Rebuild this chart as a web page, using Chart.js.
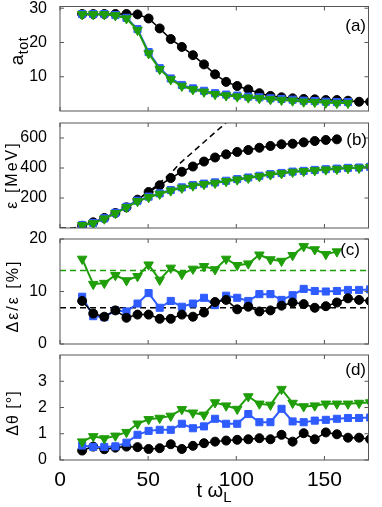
<!DOCTYPE html>
<html>
<head>
<meta charset="utf-8">
<script src="https://cdn.jsdelivr.net/npm/chart.js@4.4.1/dist/chart.umd.min.js"></script>
<style>
  html, body { margin: 0; padding: 0; background: #fff; }
  #wrap { position: relative; width: 382px; height: 507px; overflow: hidden;
          font-family: 'Liberation Sans', Arial, sans-serif; color: #000; }
  canvas { position: absolute; left: 0; }
  .ylab { position: absolute; white-space: nowrap; font-size: 16px; letter-spacing: 2px;
          transform: translate(-50%, -50%) rotate(-90deg); }
  .plab { position: absolute; font-size: 17px; transform: translate(-100%, -50%); }
  .xlab { position: absolute; font-size: 20px; white-space: nowrap; transform: translate(-50%, -50%); }
  sub { font-size: 75%; vertical-align: -0.35em; line-height: 0; }
</style>
</head>
<body>
<div id="wrap">
  <canvas id="cA" width="382" height="125" style="top:0px"></canvas>
  <canvas id="cB" width="382" height="133" style="top:109px"></canvas>
  <canvas id="cC" width="382" height="133" style="top:225px"></canvas>
  <canvas id="cD" width="382" height="166" style="top:341px"></canvas>

  <div class="ylab" style="left:17px; top:51px; font-size:19px; letter-spacing:0.5px">a<sub>tot</sub></div>
  <div class="ylab" style="left:12px; top:175px">ε [MeV]</div>
  <div class="ylab" style="left:13px; top:296px">Δε/ε [%]</div>
  <div class="ylab" style="left:13px; top:413px; letter-spacing:1px">Δθ [°]</div>

  <div class="plab" style="left:366px; top:26px">(a)</div>
  <div class="plab" style="left:367px; top:140px">(b)</div>
  <div class="plab" style="left:360px; top:250px">(c)</div>
  <div class="plab" style="left:366px; top:370px">(d)</div>

  <div class="xlab" style="left:214px; top:490px">t ω<sub>L</sub></div>
</div>
<script>
// temps de simulation (t ωL) des points
const tValues = [12.57, 18.85, 25.13, 31.42, 37.70, 43.98, 50.27, 56.55, 62.83, 69.12, 75.40,
  81.68, 87.96, 94.25, 100.53, 106.81, 113.10, 119.38, 125.66, 131.95, 138.23, 144.51,
  150.80, 157.08, 163.36, 169.65, 175.93];
const xTicks = [0, 50, 100, 150];

// (a) a_tot
const aBlack = [28.3, 28.3, 28.3, 28.3, 28.3, 28.2, 27.0, 24.1, 21.0, 18.7, 16.3, 13.6, 10.7,
  8.5, 7.3, 6.3, 5.2, 4.4, 4.0, 3.7, 3.5, 3.4, 3.2, 3.2, 3.0, 2.7, 2.7];
const aBlue = [28.3, 28.3, 28.3, 28.0, 27.2, 23.9, 17.2, 12.5, 9.5, 7.6, 6.6, 5.9, 5.2, 4.8,
  4.5, 4.2, 4.0, 3.7, 3.5, 3.3, 3.0, 2.9, 2.7, 2.6, 2.6];
const aGreen = [28.2, 28.2, 28.2, 27.9, 27.0, 23.6, 16.8, 12.2, 9.2, 7.3, 6.3, 5.6, 4.9, 4.5,
  4.2, 3.9, 3.7, 3.4, 3.2, 3.0, 2.7, 2.6, 2.4, 2.3, 2.3];
const aTicks = [10, 20, 30];

// (b) énergie [MeV]
const bBlack = [15, 38, 67, 100, 138, 189, 240, 285, 333, 375, 410, 443, 470, 491, 507, 520,
  535, 547, 558, 562, 571, 580, 587, 591];
const bBlue = [20, 34, 65, 101, 141, 182, 209, 231, 253, 271, 286, 296, 304, 315, 326, 337,
  348, 359, 367, 376, 381, 387, 392, 396, 401, 403, 408];
const bGreen = [18, 31, 62, 98, 138, 178, 205, 227, 249, 267, 282, 292, 300, 311, 322, 333,
  344, 356, 364, 373, 378, 384, 389, 393, 398, 400, 405];
const bDashT = [0, 7.5, 12.57, 18.85, 25.13, 31.42, 37.70, 43.98, 50.27, 56.55, 62.83, 68, 94, 100];
const bDashV = [0, 0, 12, 36, 66, 100, 140, 189, 242, 300, 365, 431, 700, 762];
const bTicks = [200, 400, 600];

// (c) dispersion en énergie [%]
const cBlack = [8.2, 5.8, 5.2, 6.4, 5.0, 5.6, 5.6, 4.8, 4.8, 5.6, 5.2, 6.0, 8.0, 8.4, 6.6, 7.1,
  6.2, 6.4, 7.3, 7.9, 7.6, 6.9, 7.2, 7.9, 8.7, 8.4, 8.2];
const cBlue = [9.0, 5.3, 5.1, 6.4, 6.2, 7.7, 9.7, 6.9, 8.2, 7.1, 7.7, 8.8, 7.4, 9.2, 8.8, 8.2,
  9.5, 9.5, 8.4, 9.3, 10.5, 10.1, 10.0, 10.1, 10.3, 10.3, 10.4];
const cGreen = [16.2, 11.4, 11.6, 13.1, 12.1, 12.9, 15.1, 12.2, 14.5, 13.3, 14.3, 14.8, 14.2,
  16.2, 15.0, 15.3, 17.0, 16.1, 15.8, 16.9, 18.6, 18.0, 17.1, 17.6];
const cGreenMean = 14.0;
const cBlackMean = 6.9;
const cTicks = [0, 10, 20];

// (d) divergence [°]
const dBlack = [0.36, 0.51, 0.41, 0.47, 0.51, 0.49, 0.42, 0.45, 0.60, 0.42, 0.54, 0.64, 0.70,
  0.74, 0.77, 0.79, 0.83, 0.79, 0.96, 0.70, 1.02, 0.79, 1.05, 0.98, 0.85, 0.85, 0.79];
const dBlue = [0.55, 0.50, 0.50, 0.52, 0.66, 0.96, 1.11, 1.15, 1.15, 1.38, 1.21, 1.28, 1.57,
  1.38, 1.38, 1.75, 1.44, 1.44, 1.95, 1.47, 1.44, 1.50, 1.53, 1.57, 1.60, 1.60, 1.62];
const dGreen = [0.70, 0.90, 0.82, 0.92, 1.06, 1.38, 1.55, 1.60, 1.68, 1.93, 1.80, 1.72, 2.19,
  2.07, 1.94, 2.42, 2.14, 2.10, 2.70, 2.17, 2.04, 2.07, 2.14, 2.14, 2.14, 2.17, 2.19];
const dTicks = [0, 1, 2, 3];

const BLACK = '#000000';
const BLUE = '#2f5cff';
const GREEN = '#1f9e0a';

Chart.defaults.font.family = "'Liberation Sans', Arial, sans-serif";
Chart.defaults.color = '#000';

function pts(ys, xs) {
  xs = xs || tValues;
  return ys.map((y, i) => ({ x: xs[i], y: y }));
}

function serie(ys, kind, order) {
  const base = { data: pts(ys), order: order, pointBorderWidth: 1 };
  if (kind === 'black') {
    return Object.assign(base, { borderColor: BLACK, backgroundColor: BLACK, borderWidth: 1.5,
      pointStyle: 'circle', pointRadius: 4.5 });
  }
  if (kind === 'blue') {
    return Object.assign(base, { borderColor: BLUE, backgroundColor: BLUE, borderWidth: 2,
      pointStyle: 'rect', pointRadius: 5 });
  }
  return Object.assign(base, { borderColor: GREEN, backgroundColor: GREEN, borderWidth: 2,
    pointStyle: 'triangle', pointRotation: 180, pointRadius: 5.5 });
}

function dashed(data, color, order) {
  return { data: data, order: order, borderColor: color, borderWidth: 1.5,
    borderDash: [6, 4], pointRadius: 0 };
}

// cadre façon MATLAB : boîte + graduations vers l'intérieur sur les 4 côtés
const framePlugin = {
  id: 'frame',
  afterDraw(chart) {
    const { ctx, chartArea: a, scales } = chart;
    const tl = 4;
    ctx.save();
    ctx.strokeStyle = '#555';
    ctx.lineWidth = 1;
    ctx.strokeRect(a.left, a.top, a.right - a.left, a.bottom - a.top);
    ctx.beginPath();
    xTicks.forEach(v => {
      const px = scales.x.getPixelForValue(v);
      ctx.moveTo(px, a.bottom); ctx.lineTo(px, a.bottom - tl);
      ctx.moveTo(px, a.top); ctx.lineTo(px, a.top + tl);
    });
    scales.y.ticks.forEach(t => {
      const py = scales.y.getPixelForValue(t.value);
      ctx.moveTo(a.left, py); ctx.lineTo(a.left + tl, py);
      ctx.moveTo(a.right, py); ctx.lineTo(a.right - tl, py);
    });
    ctx.stroke();
    ctx.restore();
  }
};

function makePanel(id, datasets, yMin, yMax, yTicks, opts) {
  const showX = opts.showX;
  return new Chart(document.getElementById(id), {
    type: 'line',
    data: { datasets: datasets },
    options: {
      responsive: false,
      animation: false,
      events: [],
      layout: { padding: { top: opts.top, bottom: opts.bottom, left: 0, right: 13.5 } },
      plugins: { legend: { display: false }, tooltip: { enabled: false } },
      scales: {
        x: {
          type: 'linear', min: 0, max: 175,
          display: showX,
          grid: { display: false },
          border: { display: false },
          ticks: { font: { size: 21 }, padding: 0 },
          afterBuildTicks: s => { s.ticks = xTicks.map(v => ({ value: v })); },
          afterFit: s => {
            if (showX) s.height = 47;
            s.paddingLeft = 0; s.paddingRight = 0;
          }
        },
        y: {
          type: 'linear', min: yMin, max: yMax,
          grid: { display: false },
          border: { display: false },
          ticks: { font: { size: 16 }, padding: 5 },
          afterBuildTicks: s => { s.ticks = yTicks.map(v => ({ value: v })); },
          afterFit: s => { s.width = 60; s.paddingTop = 0; s.paddingBottom = 0; }
        }
      }
    },
    plugins: [framePlugin]
  });
}

makePanel('cA', [
  serie(aGreen, 'green', 1),
  serie(aBlue, 'blue', 2),
  serie(aBlack, 'black', 3)
], 0, 30.5, aTicks, { top: 6, bottom: 14, showX: false });

makePanel('cB', [
  serie(bGreen, 'green', 1),
  serie(bBlue, 'blue', 2),
  serie(bBlack, 'black', 3),
  dashed(pts(bDashV, bDashT), BLACK, 4)
], 0, 700, bTicks, { top: 14, bottom: 14, showX: false });

makePanel('cC', [
  serie(cGreen, 'green', 1),
  serie(cBlack, 'black', 2),
  serie(cBlue, 'blue', 3),
  dashed([{ x: 0, y: cGreenMean }, { x: 175, y: cGreenMean }], GREEN, 4),
  dashed([{ x: 0, y: cBlackMean }, { x: 175, y: cBlackMean }], BLACK, 5)
], 0, 20, cTicks, { top: 14, bottom: 14, showX: false });

makePanel('cD', [
  serie(dGreen, 'green', 1),
  serie(dBlue, 'blue', 2),
  serie(dBlack, 'black', 3)
], 0, 4, dTicks, { top: 14, bottom: 0, showX: true });
</script>
</body>
</html>
